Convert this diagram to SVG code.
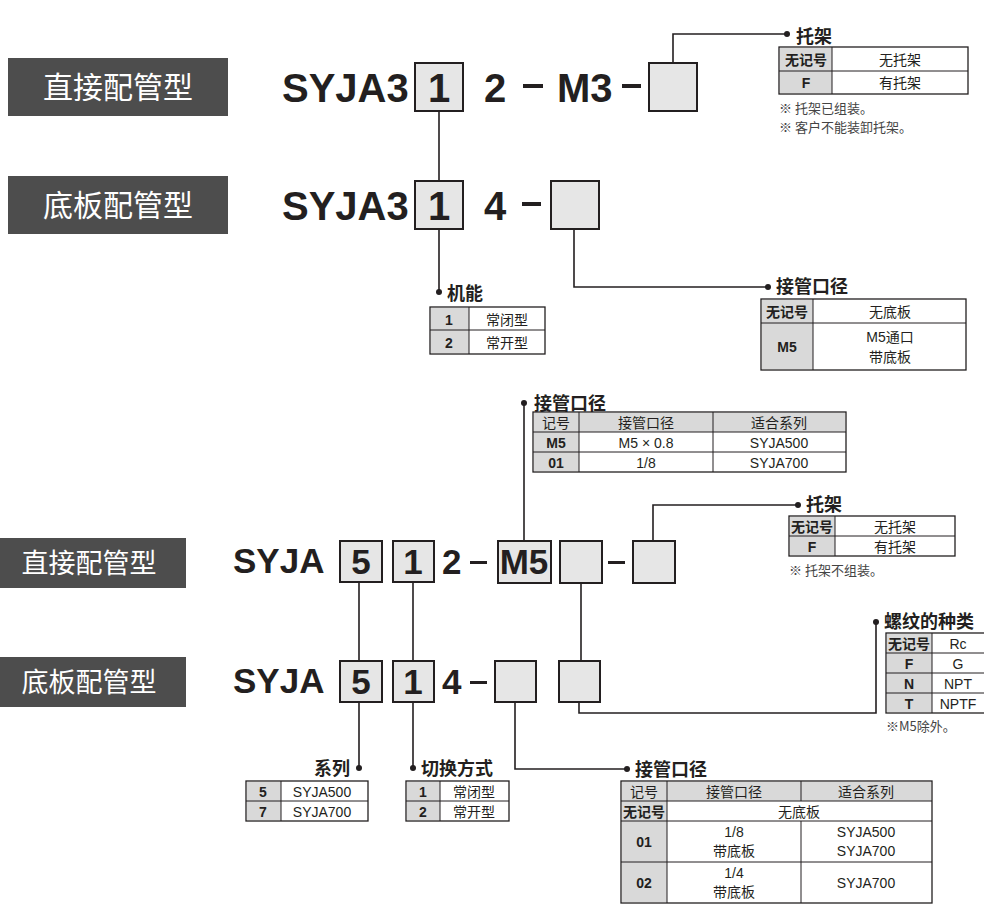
<svg xmlns="http://www.w3.org/2000/svg" width="984" height="904" viewBox="0 0 984 904">
<style>
text{font-family:"Liberation Sans","Noto Sans CJK SC",sans-serif;fill:#231f20}
.lab{fill:#4d4d4d}
.labt{fill:#fff;font-family:"Noto Sans CJK SC",sans-serif}
.code{font-weight:bold}
.box{fill:#e6e6e6;stroke:#231f20;stroke-width:2}
.ln{fill:none;stroke:#231f20;stroke-width:1.6}
.dot{fill:#231f20}
.tb{fill:#fff;stroke:#231f20;stroke-width:1.3}
.tg{fill:#d9d9d9}
.tl{stroke:#231f20;stroke-width:1}
.tt{font-size:18px;font-weight:bold;font-family:"Noto Sans CJK SC",sans-serif}
.c{font-size:14px;text-anchor:middle}
.cb{font-size:14px;text-anchor:middle;font-weight:bold}
.n{font-size:13px;font-family:"Noto Sans CJK SC",sans-serif;fill:#444}
</style>

<g id="labels">
<rect class="lab" x="8" y="58" width="220" height="58"/><text class="labt" x="118" y="98" font-size="30" text-anchor="middle">直接配管型</text>
<rect class="lab" x="8" y="176" width="220" height="58"/><text class="labt" x="118" y="216" font-size="30" text-anchor="middle">底板配管型</text>
<rect class="lab" x="0" y="538" width="186" height="50"/><text class="labt" x="89" y="573" font-size="27" text-anchor="middle">直接配管型</text>
<rect class="lab" x="0" y="657" width="186" height="50"/><text class="labt" x="89" y="692" font-size="27" text-anchor="middle">底板配管型</text>
</g>

<g id="connectors">
<path class="ln" d="M439 111V181M439 229V292"/>
<path class="ln" d="M673 63V34H787"/>
<path class="ln" d="M574 229V287H768"/>
<path class="ln" d="M359 582V661M359 702V768"/>
<path class="ln" d="M413 582V661M413 702V768"/>
<path class="ln" d="M524 541V403"/>
<path class="ln" d="M653 541V505H798"/>
<path class="ln" d="M581 583V661"/>
<path class="ln" d="M579 702V713H876V622"/>
<path class="ln" d="M515 702V769H627"/>
<g class="dot">
<circle cx="439" cy="292" r="3"/><circle cx="787" cy="34" r="3"/><circle cx="768" cy="287" r="3"/>
<circle cx="359" cy="768" r="3"/><circle cx="413" cy="768" r="3"/><circle cx="524" cy="403" r="3"/>
<circle cx="798" cy="505" r="3"/><circle cx="876" cy="622" r="3"/><circle cx="627" cy="769" r="3"/>
</g>
</g>

<g id="code-top">
<text class="code" x="282" y="102" font-size="40">SYJA3</text>
<rect class="box" x="415" y="63" width="48" height="48"/><text class="code" x="439" y="102" font-size="40" text-anchor="middle">1</text>
<text class="code" x="484" y="102" font-size="40">2</text>
<rect x="523" y="84" width="20" height="4" fill="#231f20"/>
<text class="code" x="557" y="102" font-size="40">M3</text>
<rect x="622" y="84" width="19" height="4" fill="#231f20"/>
<rect class="box" x="649" y="63" width="48" height="48"/>
</g>
<g id="code-top2">
<text class="code" x="282" y="220" font-size="40">SYJA3</text>
<rect class="box" x="415" y="181" width="48" height="48"/><text class="code" x="439" y="220" font-size="40" text-anchor="middle">1</text>
<text class="code" x="484" y="220" font-size="40">4</text>
<rect x="522" y="202" width="19" height="4" fill="#231f20"/>
<rect class="box" x="551" y="181" width="48" height="48"/>
</g>

<g id="func-table">
<text class="tt" x="447" y="300">机能</text>
<rect class="tb" x="430" y="307" width="115" height="47"/>
<rect class="tg" x="431" y="308" width="38" height="45"/>
<path class="tl" d="M469 307V354M430 330H545"/>
<text class="cb" x="449" y="325">1</text><text class="c" x="507" y="325" font-family="Noto Sans CJK SC">常闭型</text>
<text class="cb" x="449" y="348">2</text><text class="c" x="507" y="348" font-family="Noto Sans CJK SC">常开型</text>
</g>

<g id="bracket-top">
<text class="tt" x="796" y="43">托架</text>
<rect class="tb" x="779" y="47" width="189" height="47"/>
<rect class="tg" x="780" y="48" width="52" height="45"/>
<path class="tl" d="M832 47V94M779 71H968"/>
<text class="cb" x="806" y="65" font-family="Noto Sans CJK SC">无记号</text><text class="c" x="900" y="65" font-family="Noto Sans CJK SC">无托架</text>
<text class="cb" x="806" y="88">F</text><text class="c" x="900" y="88" font-family="Noto Sans CJK SC">有托架</text>
<text class="n" x="779" y="113">※  托架已组装。</text>
<text class="n" x="779" y="132">※  客户不能装卸托架。</text>
</g>

<g id="port-top">
<text class="tt" x="776" y="293">接管口径</text>
<rect class="tb" x="761" y="299" width="205" height="71"/>
<rect class="tg" x="762" y="300" width="51" height="69"/>
<path class="tl" d="M813 299V370M761 323H966"/>
<text class="cb" x="787" y="317" font-family="Noto Sans CJK SC">无记号</text><text class="c" x="890" y="317" font-family="Noto Sans CJK SC">无底板</text>
<text class="cb" x="787" y="352">M5</text><text class="c" x="890" y="342" font-family="Noto Sans CJK SC">M5通口</text><text class="c" x="890" y="362" font-family="Noto Sans CJK SC">带底板</text>
</g>

<g id="code-bot">
<text class="code" x="233" y="573" font-size="35">SYJA</text>
<rect class="box" x="340" y="541" width="42" height="41"/><text class="code" x="361" y="574" font-size="35" text-anchor="middle">5</text>
<rect class="box" x="393" y="541" width="41" height="41"/><text class="code" x="413" y="574" font-size="35" text-anchor="middle">1</text>
<text class="code" x="442" y="574" font-size="35">2</text>
<rect x="470" y="561" width="17" height="3" fill="#231f20"/>
<rect class="box" x="498" y="541" width="53" height="42"/><text class="code" x="524" y="574" font-size="35" text-anchor="middle">M5</text>
<rect class="box" x="560" y="541" width="42" height="42"/>
<rect x="608" y="561" width="17" height="3" fill="#231f20"/>
<rect class="box" x="633" y="541" width="42" height="42"/>
</g>
<g id="code-bot2">
<text class="code" x="233" y="693" font-size="35">SYJA</text>
<rect class="box" x="340" y="661" width="42" height="41"/><text class="code" x="361" y="694" font-size="35" text-anchor="middle">5</text>
<rect class="box" x="393" y="661" width="41" height="41"/><text class="code" x="413" y="694" font-size="35" text-anchor="middle">1</text>
<text class="code" x="442" y="694" font-size="35">4</text>
<rect x="470" y="681" width="17" height="3" fill="#231f20"/>
<rect class="box" x="495" y="661" width="41" height="41"/>
<rect class="box" x="559" y="661" width="41" height="41"/>
</g>

<g id="port-mid">
<text class="tt" x="534" y="410">接管口径</text>
<rect class="tb" x="533" y="412" width="313" height="60"/>
<rect class="tg" x="534" y="413" width="311" height="19"/>
<rect class="tg" x="534" y="432" width="45" height="39"/>
<path class="tl" d="M579 412V472M713 412V472M533 432H846M533 452H846"/>
<text class="c" x="556" y="428" font-family="Noto Sans CJK SC">记号</text><text class="c" x="646" y="428" font-family="Noto Sans CJK SC">接管口径</text><text class="c" x="779" y="428" font-family="Noto Sans CJK SC">适合系列</text>
<text class="cb" x="556" y="448">M5</text><text class="c" x="646" y="448">M5 × 0.8</text><text class="c" x="779" y="448">SYJA500</text>
<text class="cb" x="556" y="468">01</text><text class="c" x="646" y="468">1/8</text><text class="c" x="779" y="468">SYJA700</text>
</g>

<g id="bracket-bot">
<text class="tt" x="806" y="511">托架</text>
<rect class="tb" x="789" y="516" width="166" height="40"/>
<rect class="tg" x="790" y="517" width="45" height="38"/>
<path class="tl" d="M835 516V556M789 536H955"/>
<text class="cb" x="812" y="532" font-family="Noto Sans CJK SC">无记号</text><text class="c" x="895" y="532" font-family="Noto Sans CJK SC">无托架</text>
<text class="cb" x="812" y="552">F</text><text class="c" x="895" y="552" font-family="Noto Sans CJK SC">有托架</text>
<text class="n" x="789" y="575">※  托架不组装。</text>
</g>

<g id="thread">
<text class="tt" x="884" y="628">螺纹的种类</text>
<rect class="tb" x="886" y="633" width="110" height="80"/>
<rect class="tg" x="887" y="634" width="45" height="78"/>
<path class="tl" d="M932 633V713M886 653H996M886 673H996M886 693H996"/>
<text class="cb" x="909" y="649" font-family="Noto Sans CJK SC">无记号</text><text class="c" x="958" y="649">Rc</text>
<text class="cb" x="909" y="669">F</text><text class="c" x="958" y="669">G</text>
<text class="cb" x="909" y="689">N</text><text class="c" x="958" y="689">NPT</text>
<text class="cb" x="909" y="709">T</text><text class="c" x="958" y="709">NPTF</text>
<text class="n" x="886" y="731">※M5除外。</text>
</g>

<g id="series">
<text class="tt" x="350" y="775" text-anchor="end">系列</text>
<rect class="tb" x="246" y="781" width="122" height="40"/>
<rect class="tg" x="247" y="782" width="34" height="38"/>
<path class="tl" d="M281 781V821M246 801H368"/>
<text class="cb" x="263" y="797">5</text><text class="c" x="322" y="797">SYJA500</text>
<text class="cb" x="263" y="817">7</text><text class="c" x="322" y="817">SYJA700</text>
</g>

<g id="switch">
<text class="tt" x="421" y="775">切换方式</text>
<rect class="tb" x="406" y="781" width="103" height="40"/>
<rect class="tg" x="407" y="782" width="33" height="38"/>
<path class="tl" d="M440 781V821M406 801H509"/>
<text class="cb" x="423" y="797">1</text><text class="c" x="474" y="797" font-family="Noto Sans CJK SC">常闭型</text>
<text class="cb" x="423" y="817">2</text><text class="c" x="474" y="817" font-family="Noto Sans CJK SC">常开型</text>
</g>

<g id="port-bot">
<text class="tt" x="635" y="776">接管口径</text>
<rect class="tb" x="621" y="781" width="311" height="122"/>
<rect class="tg" x="622" y="782" width="309" height="19"/>
<rect class="tg" x="622" y="801" width="45" height="101"/>
<path class="tl" d="M667 781V903M801 781V801M801 821V903M621 801H932M621 821H932M621 862H932"/>
<text class="c" x="644" y="797" font-family="Noto Sans CJK SC">记号</text><text class="c" x="734" y="797" font-family="Noto Sans CJK SC">接管口径</text><text class="c" x="866" y="797" font-family="Noto Sans CJK SC">适合系列</text>
<text class="cb" x="644" y="817" font-family="Noto Sans CJK SC">无记号</text><text class="c" x="799" y="817" font-family="Noto Sans CJK SC">无底板</text>
<text class="cb" x="644" y="847">01</text><text class="c" x="734" y="837">1/8</text><text class="c" x="734" y="856" font-family="Noto Sans CJK SC">带底板</text>
<text class="c" x="866" y="837">SYJA500</text><text class="c" x="866" y="856">SYJA700</text>
<text class="cb" x="644" y="888">02</text><text class="c" x="734" y="878">1/4</text><text class="c" x="734" y="897" font-family="Noto Sans CJK SC">带底板</text>
<text class="c" x="866" y="888">SYJA700</text>
</g>
</svg>
